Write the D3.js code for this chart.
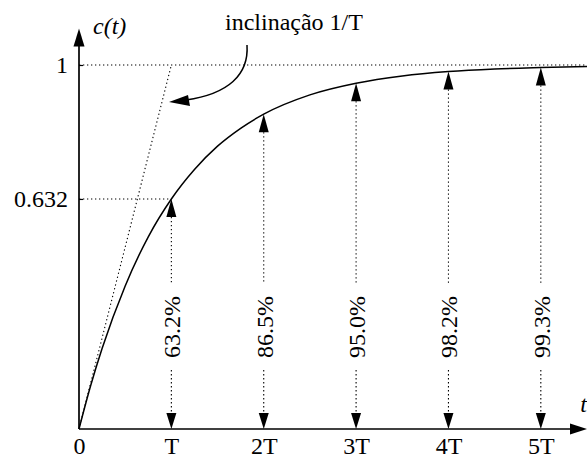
<!DOCTYPE html>
<html>
<head>
<meta charset="utf-8">
<script src="https://d3js.org/d3.v7.min.js"></script>
<style>
  body { margin: 0; background: #fff; }
  svg { display: block; }
  svg text { font-family: "Liberation Serif", "Times New Roman", serif; font-size: 24px; fill: #000; }
  .dot { fill: none; stroke: #000; stroke-width: 1.1; stroke-dasharray: 1.3,2.7; }
</style>
</head>
<body>
<svg id="chart" width="587" height="455"></svg>
<script>
// step response (t in units of T)
var curveT = [0, 0.125, 0.25, 0.5, 0.75, 1, 1.25, 1.5, 1.75, 2, 2.5, 3, 3.5, 4, 4.5, 5, 5.5];
var curveC = [0, 0.118, 0.221, 0.393, 0.528, 0.632, 0.713, 0.777, 0.826, 0.865, 0.918, 0.950, 0.970, 0.982, 0.989, 0.993, 0.996];

// marked instants and their percentages
var markT = [1, 2, 3, 4, 5];
var markC = [0.632, 0.865, 0.950, 0.982, 0.993];
var markLabels = ['63.2%', '86.5%', '95.0%', '98.2%', '99.3%'];

var tickValues = [0, 1, 2, 3, 4, 5];
var tickLabels = ['0', 'T', '2T', '3T', '4T', '5T'];
var yTickValues = [0.632, 1];
var yTickLabels = ['0.632', '1'];

var svg = d3.select('#chart');
var x = d3.scaleLinear().domain([0, 5.5]).range([79, 587]);
var y = d3.scaleLinear().domain([0, 1]).range([429, 65]);

// --- helpers for filled arrowheads ---
function arrowUp(cx, tipY, len, hw) {
  return 'M' + cx + ',' + tipY + 'L' + (cx - hw) + ',' + (tipY + len) + 'L' + (cx + hw) + ',' + (tipY + len) + 'Z';
}
function arrowDown(cx, tipY, len, hw) {
  return 'M' + cx + ',' + tipY + 'L' + (cx - hw) + ',' + (tipY - len) + 'L' + (cx + hw) + ',' + (tipY - len) + 'Z';
}

// --- dotted guides ---
svg.append('line').attr('class', 'dot')
  .attr('x1', x(0)).attr('x2', x(5.5)).attr('y1', y(1)).attr('y2', y(1));
svg.append('line').attr('class', 'dot')
  .attr('x1', x(0)).attr('x2', x(1)).attr('y1', y(0.632)).attr('y2', y(0.632));
// tangent at origin, slope 1/T
svg.append('line').attr('class', 'dot')
  .attr('x1', x(0)).attr('y1', y(0)).attr('x2', x(1)).attr('y2', y(1));

// --- response curve ---
var pts = curveT.map(function(t, i) { return [t, curveC[i]]; });
svg.append('path')
  .datum(pts)
  .attr('fill', 'none')
  .attr('stroke', '#000')
  .attr('stroke-width', 1.5)
  .attr('d', d3.line()
    .x(function(d) { return x(d[0]); })
    .y(function(d) { return y(d[1]); })
    .curve(d3.curveMonotoneX));

// --- vertical markers with percentages ---
var labelY = y(0.28);
var gapHalf = 43;
markT.forEach(function(t, i) {
  var cx = x(t);
  var top = y(markC[i]);
  var bottom = y(0);
  svg.append('line').attr('class', 'dot')
    .attr('x1', cx).attr('x2', cx).attr('y1', top + 18).attr('y2', labelY - gapHalf);
  svg.append('line').attr('class', 'dot')
    .attr('x1', cx).attr('x2', cx).attr('y1', labelY + gapHalf).attr('y2', bottom - 16);
  svg.append('path').attr('d', arrowUp(cx, top, 18, 5)).attr('fill', '#000');
  svg.append('path').attr('d', arrowDown(cx, bottom, 16, 5)).attr('fill', '#000');
  svg.append('text')
    .attr('transform', 'translate(' + (cx + 9) + ',' + labelY + ') rotate(-90)')
    .attr('text-anchor', 'middle')
    .text(markLabels[i]);
});

// --- axes ---
var xAxis = svg.append('g')
  .attr('transform', 'translate(0,' + y(0) + ')')
  .call(d3.axisBottom(x)
    .tickValues(tickValues)
    .tickFormat(function(d, i) { return tickLabels[i]; })
    .tickSize(0)
    .tickPadding(8));
xAxis.attr('font-family', null).attr('font-size', null);
xAxis.select('.domain').remove();

var yAxis = svg.append('g')
  .attr('transform', 'translate(' + x(0) + ',0)')
  .call(d3.axisLeft(y)
    .tickValues(yTickValues)
    .tickFormat(function(d, i) { return yTickLabels[i]; })
    .tickSizeInner(-4)
    .tickSizeOuter(0)
    .tickPadding(11));
yAxis.attr('font-family', null).attr('font-size', null);
yAxis.select('.domain').remove();
yAxis.selectAll('line').attr('stroke', '#000').attr('stroke-width', 1.2);

// axis lines with arrowheads
svg.append('line')
  .attr('x1', x(0)).attr('y1', y(0)).attr('x2', x(5.5) - 10).attr('y2', y(0))
  .attr('stroke', '#000').attr('stroke-width', 1.7);
svg.append('path')
  .attr('d', 'M' + x(5.5) + ',' + y(0) + 'L' + (x(5.5) - 17) + ',' + (y(0) - 5.5) + 'L' + (x(5.5) - 17) + ',' + (y(0) + 5.5) + 'Z')
  .attr('fill', '#000');
svg.append('line')
  .attr('x1', x(0)).attr('y1', y(0)).attr('x2', x(0)).attr('y2', y(1.1) + 10)
  .attr('stroke', '#000').attr('stroke-width', 1.7);
svg.append('path').attr('d', arrowUp(x(0), y(1.1), 18, 5.5)).attr('fill', '#000');

// axis names
svg.append('text').attr('x', 93).attr('y', 34)
  .attr('font-style', 'italic').text('c(t)');
svg.append('text').attr('x', 587).attr('y', 412).attr('text-anchor', 'end')
  .attr('font-style', 'italic').text('t');

// slope annotation
svg.append('text').attr('x', 225).attr('y', 30).text('inclinação 1/T');
svg.append('path')
  .attr('d', 'M247,45 C249,75 228,94 186,100')
  .attr('fill', 'none').attr('stroke', '#000').attr('stroke-width', 1.5);
svg.append('path')
  .attr('d', 'M169,102 L188,95 L190,106 Z')
  .attr('fill', '#000');
</script>
</body>
</html>
